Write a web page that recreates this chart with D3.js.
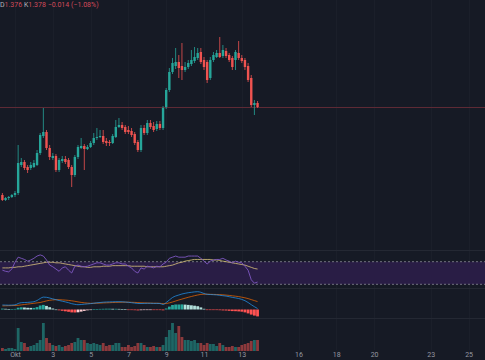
<!DOCTYPE html>
<html><head><meta charset="utf-8">
<script src="https://cdn.jsdelivr.net/npm/d3@7"></script>
<style>html,body{margin:0;padding:0;background:#161a25;}svg{display:block;}</style>
</head><body>
<svg id="c" width="485" height="360"></svg>
<script>
// ---- DATA (4h candles, starting 30 Sep 08:00) ----
const open  = [1.288,1.283,1.285,1.286,1.288,1.290,1.318,1.321,1.316,1.315,1.316,1.318,1.330,1.347,1.351,1.335,1.325,1.327,1.313,1.322,1.324,1.323,1.316,1.308,1.326,1.335,1.337,1.334,1.336,1.340,1.345,1.346,1.347,1.342,1.341,1.340,1.346,1.356,1.358,1.356,1.353,1.352,1.349,1.341,1.333,1.355,1.350,1.360,1.357,1.354,1.359,1.355,1.376,1.393,1.411,1.417,1.421,1.417,1.413,1.416,1.419,1.422,1.425,1.431,1.423,1.421,1.405,1.423,1.426,1.430,1.427,1.432,1.428,1.425,1.423,1.430,1.425,1.423,1.417,1.405,1.378,1.380];
const high  = [1.290,1.286,1.287,1.289,1.292,1.338,1.325,1.323,1.318,1.321,1.323,1.333,1.350,1.375,1.353,1.338,1.330,1.329,1.325,1.327,1.327,1.325,1.318,1.328,1.338,1.345,1.339,1.338,1.342,1.350,1.355,1.353,1.353,1.345,1.343,1.349,1.363,1.365,1.361,1.358,1.357,1.355,1.351,1.343,1.358,1.358,1.363,1.363,1.361,1.362,1.362,1.377,1.395,1.415,1.425,1.435,1.428,1.440,1.421,1.423,1.433,1.436,1.435,1.435,1.426,1.423,1.426,1.431,1.433,1.446,1.438,1.435,1.430,1.427,1.433,1.442,1.428,1.425,1.420,1.408,1.383,1.382];
const low   = [1.282,1.282,1.283,1.285,1.286,1.288,1.316,1.313,1.310,1.313,1.315,1.317,1.328,1.345,1.333,1.323,1.323,1.311,1.311,1.320,1.319,1.314,1.296,1.306,1.324,1.334,1.313,1.333,1.335,1.338,1.343,1.345,1.339,1.337,1.337,1.339,1.345,1.355,1.353,1.349,1.349,1.346,1.338,1.331,1.331,1.348,1.348,1.354,1.351,1.352,1.353,1.353,1.374,1.391,1.409,1.414,1.405,1.403,1.411,1.414,1.417,1.420,1.423,1.419,1.413,1.400,1.403,1.421,1.425,1.425,1.425,1.425,1.421,1.413,1.413,1.423,1.420,1.413,1.401,1.376,1.368,1.375];
const close = [1.283,1.285,1.286,1.288,1.290,1.320,1.321,1.315,1.313,1.318,1.320,1.330,1.348,1.351,1.335,1.326,1.327,1.313,1.323,1.324,1.321,1.316,1.308,1.326,1.336,1.337,1.334,1.336,1.340,1.345,1.346,1.347,1.341,1.340,1.340,1.347,1.356,1.358,1.355,1.351,1.351,1.348,1.340,1.333,1.355,1.350,1.360,1.356,1.353,1.359,1.355,1.375,1.393,1.411,1.420,1.421,1.415,1.413,1.416,1.420,1.423,1.426,1.430,1.421,1.416,1.403,1.423,1.428,1.430,1.426,1.433,1.427,1.423,1.416,1.431,1.425,1.422,1.416,1.403,1.378,1.380,1.376];
const volume = [30,20,30,30,20,230,90,80,40,50,60,80,110,280,130,80,60,50,60,40,50,60,80,90,130,110,110,80,70,80,70,60,80,50,60,60,80,80,40,40,60,40,50,80,80,60,40,40,50,40,40,60,140,210,280,180,250,140,110,110,100,110,80,80,60,80,70,70,50,80,60,40,40,50,40,40,60,70,80,100,110,110];
const rsi   = [55,53,52,57,69,78,76,74,71,73,76,80,82,80,73,64,61,57,53,59,61,55,50,62,64,62,61,62,64,66,68,68,66,64,64,66,68,68,66,66,62,59,53,50,59,57,62,61,59,62,61,66,69,76,78,80,78,78,78,80,80,80,80,76,71,66,71,73,74,74,76,73,71,68,71,69,68,62,55,38,32,34];
const rsiMA = [59,59,59,60,60,61,61,62,63,64,65,66,67,68,69,69,69,68,68,67,66,65,64,63,62,61,61,60,60,61,61,61,62,62,62,63,63,63,63,63,63,62,62,62,62,62,61,61,61,61,61,61,62,63,64,66,68,69,71,72,73,74,74,74,74,74,74,73,73,72,71,70,69,68,67,66,65,64,62,60,58,57];
const macd  = [0.0045,0.0044,0.0043,0.0044,0.0046,0.0060,0.0068,0.0070,0.0071,0.0074,0.0078,0.0090,0.0110,0.0124,0.0122,0.0115,0.0106,0.0098,0.0090,0.0083,0.0076,0.0068,0.0058,0.0052,0.0048,0.0050,0.0053,0.0056,0.0059,0.0063,0.0067,0.0070,0.0073,0.0075,0.0076,0.0077,0.0078,0.0078,0.0077,0.0075,0.0072,0.0068,0.0064,0.0060,0.0060,0.0061,0.0062,0.0062,0.0061,0.0061,0.0060,0.0050,0.0070,0.0095,0.0120,0.0135,0.0145,0.0155,0.0162,0.0168,0.0172,0.0176,0.0178,0.0172,0.0160,0.0152,0.0150,0.0148,0.0146,0.0142,0.0138,0.0134,0.0128,0.0121,0.0116,0.0110,0.0101,0.0088,0.0070,0.0048,0.0028,0.0010];
const signal= [0.0036,0.0037,0.0038,0.0039,0.0040,0.0042,0.0046,0.0050,0.0054,0.0058,0.0062,0.0066,0.0070,0.0078,0.0086,0.0092,0.0096,0.0098,0.0098,0.0096,0.0094,0.0091,0.0087,0.0082,0.0076,0.0071,0.0067,0.0064,0.0062,0.0062,0.0063,0.0064,0.0066,0.0067,0.0068,0.0070,0.0071,0.0072,0.0073,0.0073,0.0073,0.0072,0.0071,0.0069,0.0067,0.0066,0.0065,0.0064,0.0063,0.0063,0.0062,0.0058,0.0060,0.0066,0.0075,0.0085,0.0095,0.0104,0.0113,0.0122,0.0130,0.0138,0.0145,0.0151,0.0153,0.0153,0.0152,0.0151,0.0150,0.0149,0.0147,0.0144,0.0141,0.0137,0.0133,0.0129,0.0123,0.0117,0.0109,0.0099,0.0089,0.0079];
const hist  = [0.0009,0.0007,0.0005,0.0005,0.0006,0.0018,0.0022,0.0020,0.0017,0.0016,0.0016,0.0024,0.0040,0.0046,0.0036,0.0023,0.0010,0.0000,-0.0008,-0.0013,-0.0018,-0.0023,-0.0029,-0.0030,-0.0028,-0.0021,-0.0014,-0.0008,-0.0003,0.0001,0.0004,0.0006,0.0007,0.0008,0.0008,0.0007,0.0007,0.0006,0.0004,0.0002,-0.0001,-0.0004,-0.0007,-0.0009,-0.0007,-0.0005,-0.0003,-0.0002,-0.0002,-0.0002,-0.0002,-0.0008,0.0010,0.0029,0.0045,0.0050,0.0050,0.0051,0.0049,0.0046,0.0042,0.0038,0.0033,0.0021,0.0007,-0.0001,-0.0002,-0.0003,-0.0004,-0.0007,-0.0009,-0.0010,-0.0013,-0.0016,-0.0017,-0.0019,-0.0022,-0.0029,-0.0039,-0.0051,-0.0061,-0.0069];
const tickDays   = [1,3,5,7,9,11,13,16,18,20,23,25];
const tickLabels = ["Okt","3","5","7","9","11","13","16","18","20","23","25"];
const lastPrice = 1.376;
const rsiBands = [70, 30];

// ---- SCALES ----
const W = 485, H = 360;
const START = Date.UTC(2024, 8, 30, 8);
const times = open.map((_, i) => new Date(START + i * 4 * 3600e3));
const x = d3.scaleUtc()
  .domain([new Date(Date.UTC(2024, 9, 1)), new Date(Date.UTC(2024, 9, 25))])
  .range([15, 468.6]);
const y = d3.scaleLinear().domain([1.483, 1.123]).range([0, 360]);
const yR = d3.scaleLinear().domain([30, 70]).range([284.3, 261.7]);
const yM = d3.scaleLinear().domain([0, 0.01]).range([309.5, 299.5]);
const yV = d3.scaleLinear().domain([0, 280]).range([351, 323]);

const UP = "#26a69a", DN = "#ef5350";
const svg = d3.select("#c");
svg.append("rect").attr("width", W).attr("height", H).attr("fill", "#161a25");

const tickDates = tickDays.map(d => new Date(Date.UTC(2024, 9, d)));

// grid
svg.append("g").selectAll("line").data(tickDates).join("line")
  .attr("x1", d => Math.round(x(d)) + 0.5).attr("x2", d => Math.round(x(d)) + 0.5).attr("y1", 0).attr("y2", 350)
  .attr("stroke", "#1b1f2a").attr("stroke-width", 1);

// pane separators
svg.append("g").selectAll("line").data([250.5, 288.5, 318.5]).join("line")
  .attr("x1", 0).attr("x2", W).attr("y1", d => d).attr("y2", d => d)
  .attr("stroke", "#242833");

// price line
svg.append("line").attr("x1", 0).attr("x2", W)
  .attr("y1", Math.round(y(lastPrice)) + 0.5).attr("y2", Math.round(y(lastPrice)) + 0.5)
  .attr("stroke", "#5e2a35");

// candles
const cg = svg.append("g");
const idx = d3.range(open.length);
cg.selectAll("line.w").data(idx).join("line")
  .attr("x1", i => x(times[i])).attr("x2", i => x(times[i]))
  .attr("y1", i => y(high[i])).attr("y2", i => y(low[i]))
  .attr("stroke", i => close[i] >= open[i] ? UP : DN).attr("stroke-width", 0.8);
cg.selectAll("rect").data(idx).join("rect")
  .attr("x", i => x(times[i]) - 1.2).attr("width", 2.4)
  .attr("y", i => y(Math.max(open[i], close[i])))
  .attr("height", i => Math.max(1, Math.abs(y(open[i]) - y(close[i]))))
  .attr("fill", i => close[i] >= open[i] ? UP : DN);

// RSI pane
svg.append("rect").attr("x", 0).attr("width", W)
  .attr("y", yR(rsiBands[0])).attr("height", yR(rsiBands[1]) - yR(rsiBands[0]))
  .attr("fill", "#291d45");
svg.append("g").selectAll("line").data(rsiBands).join("line")
  .attr("x1", 0).attr("x2", W).attr("y1", d => yR(d)).attr("y2", d => yR(d))
  .attr("stroke", "#9598a1").attr("stroke-opacity", 0.7).attr("stroke-dasharray", "2,2");
svg.append("path").datum(idx)
  .attr("d", d3.line().x(i => x(times[i])).y(i => yR(rsiMA[i])).curve(d3.curveMonotoneX))
  .attr("fill", "none").attr("stroke", "#d9c27a").attr("stroke-opacity", 0.9).attr("stroke-width", 0.9);
svg.append("path").datum(idx)
  .attr("d", d3.line().x(i => x(times[i])).y(i => yR(rsi[i])))
  .attr("fill", "none").attr("stroke", "#7e57c2").attr("stroke-width", 0.9);

// MACD pane
svg.append("g").selectAll("rect").data(idx).join("rect")
  .attr("x", i => x(times[i]) - 1.4).attr("width", 2.8)
  .attr("y", i => Math.min(yM(0), yM(hist[i])))
  .attr("height", i => Math.max(0.6, Math.abs(yM(hist[i]) - yM(0))))
  .attr("fill", i => {
    const h = hist[i], p = i > 0 ? hist[i - 1] : 0;
    if (h >= 0) return h >= p ? "#26a69a" : "#b2dfdb";
    return h <= p ? "#ff5252" : "#ffcdd2";
  });
svg.append("path").datum(idx)
  .attr("d", d3.line().x(i => x(times[i])).y(i => yM(signal[i])).curve(d3.curveMonotoneX))
  .attr("fill", "none").attr("stroke", "#ff6d00").attr("stroke-opacity", 0.75).attr("stroke-width", 0.9);
svg.append("path").datum(idx)
  .attr("d", d3.line().x(i => x(times[i])).y(i => yM(macd[i])).curve(d3.curveMonotoneX))
  .attr("fill", "none").attr("stroke", "#2196f3").attr("stroke-opacity", 0.8).attr("stroke-width", 0.9);

// Volume pane
svg.append("g").selectAll("rect").data(idx).join("rect")
  .attr("x", i => x(times[i]) - 1.4).attr("width", 2.8)
  .attr("y", i => yV(volume[i])).attr("height", i => yV(0) - yV(volume[i]))
  .attr("fill", i => close[i] >= open[i] ? UP : DN).attr("fill-opacity", 0.55);

// time axis
const ax = svg.append("g").attr("transform", "translate(0,350)")
  .call(d3.axisBottom(x).tickValues(tickDates).tickSize(0).tickPadding(2)
    .tickFormat((d, i) => tickLabels[i]));
ax.select(".domain").remove();
ax.selectAll("text").attr("fill", "#9598a1").attr("font-size", "7px")
  .attr("font-family", "Roboto, 'DejaVu Sans', sans-serif");

// header legend
const hdr = svg.append("text").attr("x", 0).attr("y", 7)
  .attr("font-size", "7px").attr("font-family", "Roboto, 'DejaVu Sans', sans-serif");
[["D", "#b2b5be"], ["1.376 ", "#d24a5a"], ["K", "#b2b5be"], ["1.378 ", "#d24a5a"],
 ["\u22120.014 (\u22121.08%)", "#d24a5a"]].forEach(([t, c]) =>
  hdr.append("tspan").text(t).attr("fill", c));
</script>
</body></html>
